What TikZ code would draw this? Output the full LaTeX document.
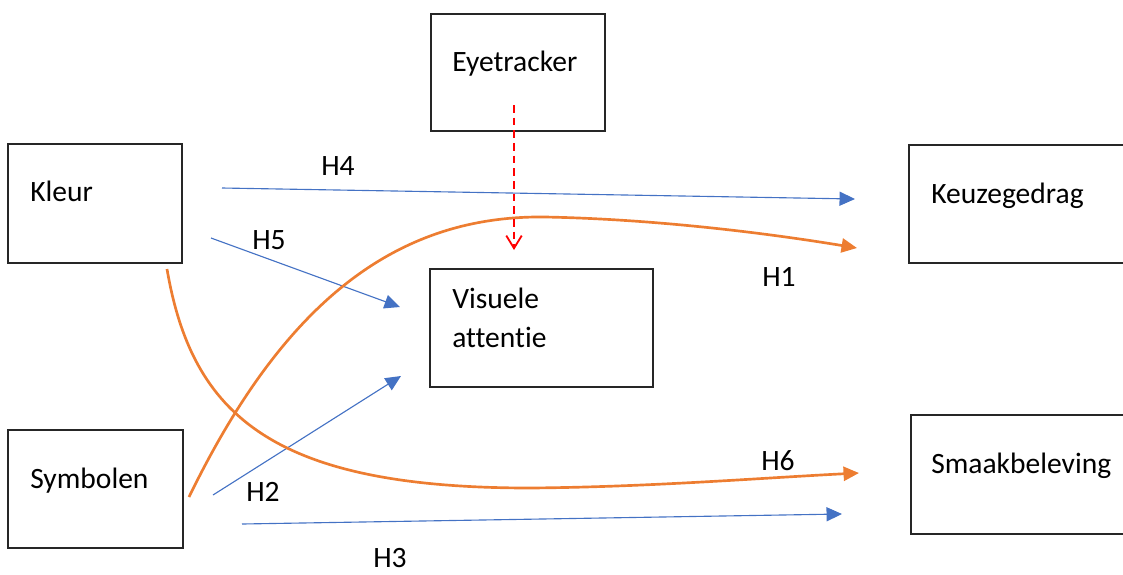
\documentclass[tikz,border=0pt]{standalone}
\usepackage{fontspec}
\setmainfont[Ligatures=NoCommon]{Carlito}
\usetikzlibrary{arrows.meta}
\definecolor{hblue}{HTML}{4472C4}
\definecolor{horange}{HTML}{ED7D31}
\definecolor{hred}{HTML}{FF0000}

\begin{document}
\begin{tikzpicture}[x=0.025cm, y=-0.025cm,
	box/.style={draw=black!85, line width=0.9pt, inner sep=0pt},
	lbl/.style={anchor=base west, inner sep=0pt, font=\fontsize{21}{25}\selectfont},
	hyp/.style={hblue, line width=0.8pt, -{Triangle[length=11pt,width=10pt]}},
	curvehyp/.style={horange, line width=1.9pt, -{Triangle[length=11pt,width=10pt]}}]
		\useasboundingbox (0,0) rectangle (1123,574);
		
		% Boxes
		\node[box, minimum width=4.35cm, minimum height=2.925cm] (eye) at (518,72.5) {};
		\node[box, minimum width=4.35cm, minimum height=2.975cm] (kleur) at (95,203.5) {};
		\node[box, minimum width=4.375cm, minimum height=2.95cm] (symb) at (95.5,489) {};
		\node[box, minimum width=5.575cm, minimum height=2.95cm] (vis) at (541.5,328) {};
		\node[box, minimum width=5.4cm, minimum height=2.95cm] (keuze) at (1017,204) {};
		\node[box, minimum width=5.35cm, minimum height=2.975cm] (smaak) at (1018,474.5) {};
		
		% Box texts
		\node[lbl] (eyetxt) at (452,71) {Eyetracker};
		\node[lbl] (kleurtxt) at (30,201) {Kleur};
		\node[lbl] (symbtxt) at (30,488) {Symbolen};
		\node[lbl] (vistxt) at (452,308) {Visuele};
		\node[lbl] (vistxtb) at (452,347) {attentie};
		\node[lbl] (keuzetxt) at (931,203) {Keuzegedrag};
		\node[lbl] (smaaktxt) at (931,473) {Smaakbeleving};
		
		% Arrow end points
		\coordinate (h4s) at (222,188);
		\coordinate (h4e) at (855,199);
		\coordinate (h5s) at (211,238);
		\coordinate (h5e) at (400,307);
		\coordinate (h2s) at (213,495);
		\coordinate (h2e) at (401,376);
		\coordinate (h3s) at (242,524);
		\coordinate (h3e) at (842,514);
		\coordinate (h1s) at (189,497);
		\coordinate (h1e) at (857,248);
		\coordinate (h6s) at (167,269);
		\coordinate (h6e) at (859,473);
		\coordinate (eyes) at (514,105);
		\coordinate (eyee) at (514,250);
		
		% Straight hypotheses
		\foreach \a/\b in {h4s/h4e, h5s/h5e, h2s/h2e, h3s/h3e} {
			\draw[hyp] (\a) -- (\b);
		}
		
		% Curved hypotheses
		\draw[curvehyp] (h1s) .. controls (280,310) and (390,215) .. (545,217) .. controls (650,219) and (760,232) .. (h1e);
		\draw[curvehyp] (h6s) .. controls (192,415) and (272,488) .. (530,488) .. controls (650,487) and (760,478) .. (h6e);
		
		% Eyetracker measurement
		\draw[hred, line width=1.3pt, dash pattern=on 5.5pt off 3.5pt, -{Straight Barb[length=9pt,width=11pt]}] (eyes) -- (eyee);
		
		% Hypothesis labels
		\node[lbl] (h4) at (321,175) {H4};
		\node[lbl] (h5) at (252,249) {H5};
		\node[lbl] (h2) at (246,501) {H2};
		\node[lbl] (h3) at (373,567) {H3};
		\node[lbl] (h1) at (762,286) {H1};
		\node[lbl] (h6) at (761,470) {H6};
		
	\end{tikzpicture}
\end{document}
